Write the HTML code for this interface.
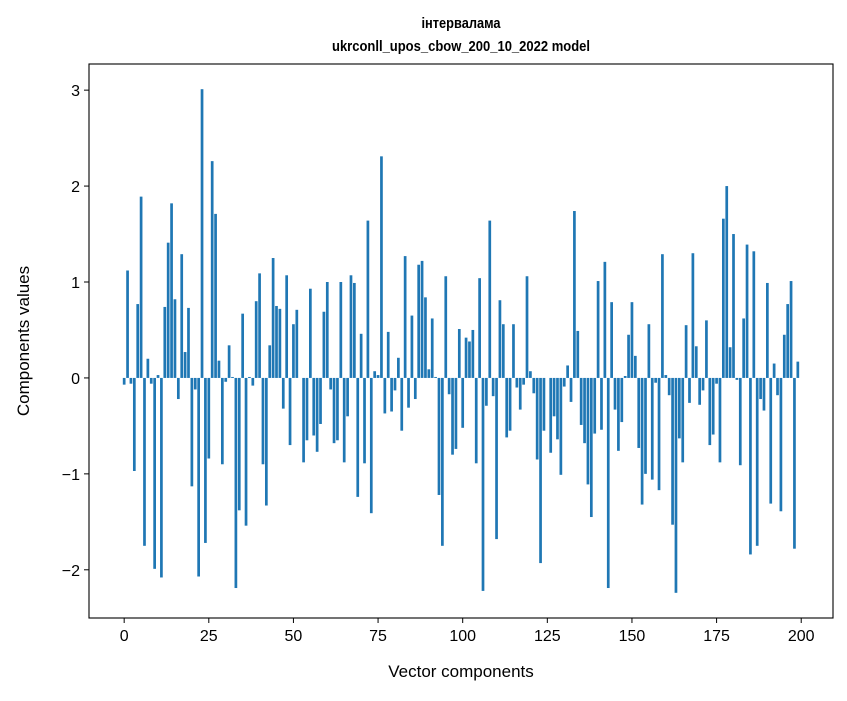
<!DOCTYPE html>
<html><head><meta charset="utf-8"><style>
html,body{margin:0;padding:0;background:#fff;}
svg text{font-family:"Liberation Sans","DejaVu Sans",sans-serif;fill:#000;}
</style></head><body>
<svg id="chart" width="847" height="696" viewBox="0 0 847 696" xmlns="http://www.w3.org/2000/svg">
<rect x="0" y="0" width="847" height="696" fill="#fff"/>
<text x="461" y="28" text-anchor="middle" font-size="15" font-weight="bold" textLength="79" lengthAdjust="spacingAndGlyphs">інтервалама</text>
<text x="461" y="51" text-anchor="middle" font-size="15" font-weight="bold" textLength="258" lengthAdjust="spacingAndGlyphs">ukrconll_upos_cbow_200_10_2022 model</text>
<g id="bars"></g>
<g id="axes"></g>
<text x="461" y="677" text-anchor="middle" font-size="17">Vector components</text>
<text transform="translate(29,341) rotate(-90)" text-anchor="middle" font-size="17">Components values</text>
</svg>
<script>
const values = [
-0.07,1.12,-0.06,-0.97,0.77,1.89,-1.75,0.20,-0.06,-1.99,
0.03,-2.08,0.74,1.41,1.82,0.82,-0.22,1.29,0.27,0.73,
-1.13,-0.12,-2.07,3.01,-1.72,-0.84,2.26,1.71,0.18,-0.90,
-0.04,0.34,0.01,-2.19,-1.38,0.67,-1.54,0.01,-0.08,0.80,
1.09,-0.90,-1.33,0.34,1.25,0.75,0.72,-0.32,1.07,-0.70,
0.56,0.71,0.00,-0.88,-0.65,0.93,-0.60,-0.77,-0.48,0.69,
1.00,-0.12,-0.68,-0.65,1.00,-0.88,-0.40,1.07,0.99,-1.24,
0.46,-0.89,1.64,-1.41,0.07,0.03,2.31,-0.37,0.48,-0.35,
-0.13,0.21,-0.55,1.27,-0.31,0.65,-0.22,1.18,1.22,0.84,
0.09,0.62,0.01,-1.22,-1.75,1.06,-0.17,-0.80,-0.74,0.51,
-0.52,0.42,0.38,0.50,-0.89,1.04,-2.22,-0.29,1.64,-0.19,
-1.68,0.81,0.56,-0.62,-0.55,0.56,-0.10,-0.33,-0.07,1.06,
0.07,-0.16,-0.85,-1.93,-0.55,0.00,-0.78,-0.40,-0.64,-1.01,
-0.09,0.13,-0.25,1.74,0.49,-0.49,-0.68,-1.11,-1.45,-0.58,
1.01,-0.54,1.21,-2.19,0.79,-0.33,-0.76,-0.46,0.02,0.45,
0.79,0.23,-0.73,-1.32,-1.00,0.56,-1.06,-0.05,-1.17,1.29,
0.03,-0.18,-1.53,-2.24,-0.63,-0.88,0.55,-0.26,1.30,0.33,
-0.28,-0.13,0.60,-0.70,-0.59,-0.06,-0.88,1.66,2.00,0.32,
1.50,-0.02,-0.91,0.62,1.39,-1.84,1.32,-1.75,-0.22,-0.34,
0.99,-1.31,0.15,-0.18,-1.39,0.45,0.77,1.01,-1.78,0.17
];
const xTicks = [0,25,50,75,100,125,150,175,200];
const yTicks = [-2,-1,0,1,2,3];

const NS = "http://www.w3.org/2000/svg";
const L = 89, R = 833, T = 64, B = 618;
const n = values.length;
const xmin0 = -0.4, xmax0 = n - 1 + 0.4;
const xpad = (xmax0 - xmin0) * 0.05;
const xDom = [xmin0 - xpad, xmax0 + xpad];
const vmin = Math.min(0, ...values), vmax = Math.max(0, ...values);
const ypad = (vmax - vmin) * 0.05;
const yDom = [vmin - ypad, vmax + ypad];
function xs(v){ return L + (v - xDom[0]) / (xDom[1] - xDom[0]) * (R - L); }
function ys(v){ return B - (v - yDom[0]) / (yDom[1] - yDom[0]) * (B - T); }

const bars = document.getElementById('bars');
values.forEach((v, i) => {
  const r = document.createElementNS(NS, 'rect');
  const x0 = xs(i - 0.4), x1 = xs(i + 0.4);
  const y0 = ys(Math.max(0, v)), y1 = ys(Math.min(0, v));
  r.setAttribute('x', x0);
  r.setAttribute('width', x1 - x0);
  r.setAttribute('y', y0);
  r.setAttribute('height', Math.max(0, y1 - y0));
  r.setAttribute('fill', '#1f77b4');
  
  
  bars.appendChild(r);
});

const axes = document.getElementById('axes');
const frame = document.createElementNS(NS, 'rect');
frame.setAttribute('x', L); frame.setAttribute('y', T);
frame.setAttribute('width', R - L); frame.setAttribute('height', B - T);
frame.setAttribute('fill', 'none'); frame.setAttribute('stroke', '#000'); frame.setAttribute('stroke-width', '1.1');


axes.appendChild(frame);

xTicks.forEach(t => {
  const x = xs(t);
  const ln = document.createElementNS(NS, 'line');
  ln.setAttribute('x1', x); ln.setAttribute('x2', x);
  ln.setAttribute('y1', B); ln.setAttribute('y2', B + 5);
  ln.setAttribute('stroke', '#000');
  
  
  axes.appendChild(ln);
  const tx = document.createElementNS(NS, 'text');
  tx.setAttribute('x', x); tx.setAttribute('y', B + 23);
  tx.setAttribute('text-anchor', 'middle'); tx.setAttribute('font-size', '16');
  tx.textContent = String(t);
  
  
  axes.appendChild(tx);
});
yTicks.forEach(t => {
  const y = ys(t);
  const ln = document.createElementNS(NS, 'line');
  ln.setAttribute('x1', L - 5); ln.setAttribute('x2', L);
  ln.setAttribute('y1', y); ln.setAttribute('y2', y);
  ln.setAttribute('stroke', '#000');
  
  
  axes.appendChild(ln);
  const tx = document.createElementNS(NS, 'text');
  tx.setAttribute('x', L - 9); tx.setAttribute('y', y + 6);
  tx.setAttribute('text-anchor', 'end'); tx.setAttribute('font-size', '16');
  tx.textContent = t < 0 ? '\u2212' + Math.abs(t) : String(t);
  
  
  axes.appendChild(tx);
});
</script>
</body></html>
